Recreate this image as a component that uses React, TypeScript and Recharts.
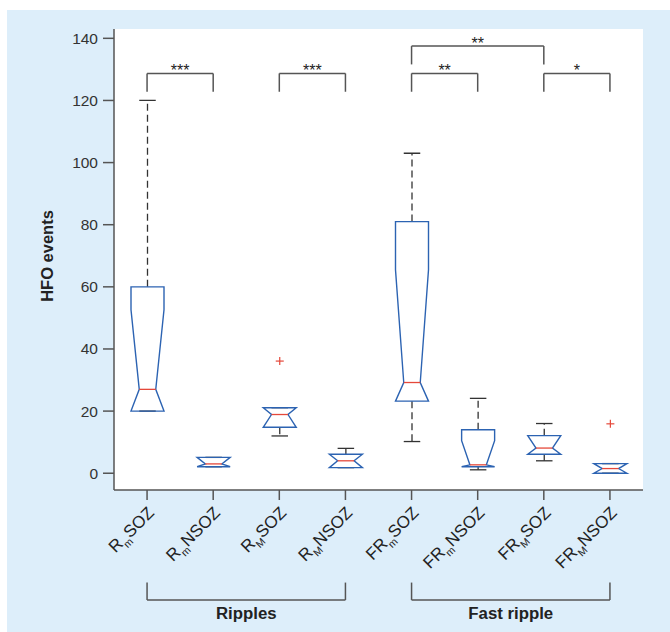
import React from "react";
import {
  ComposedChart,
  Bar,
  XAxis,
  YAxis,
  CartesianGrid,
  ReferenceLine,
} from "recharts";

const categories = ["RmSOZ", "RmNSOZ", "RMSOZ", "RMNSOZ", "FRmSOZ", "FRmNSOZ", "FRMSOZ", "FRMNSOZ"];
const labelHead = ["R", "R", "R", "R", "FR", "FR", "FR", "FR"];
const labelSub = ["m", "m", "M", "M", "m", "m", "M", "M"];
const labelTail = ["SOZ", "NSOZ", "SOZ", "NSOZ", "SOZ", "NSOZ", "SOZ", "NSOZ"];

const whiskerLow = [20, 2.1, 12, 1.8, 10.2, 1.1, 4, 0];
const q1 = [20, 2.1, 14.8, 1.8, 23.2, 2.1, 6.1, 0];
const median = [27, 3, 18.9, 4, 29.2, 2.7, 8.1, 1.5];
const q3 = [60, 5.1, 21.1, 6.1, 81, 14, 12.1, 3.1];
const whiskerHigh = [120, 5.1, 21.1, 8, 103, 24.1, 16, 3.1];
const notchLow = [1.4, 0.5, 13, 1.5, -8, -5, 3.7, -1.5];
const notchHigh = [52.6, 5.5, 25, 6.5, 65.5, 10.5, 12.5, 4.5];
const outliers: number[][] = [[], [], [36.1], [], [], [], [], [15.9]];

const yTicks = [0, 20, 40, 60, 80, 100, 120, 140];

// significance brackets (category index pairs)
const sigFrom = [0, 2, 4, 6, 4];
const sigTo = [1, 3, 5, 7, 6];
const sigTop = [128.7, 128.7, 128.7, 128.7, 137.5];
const sigLeg = [122.8, 122.8, 122.8, 122.8, 131.6];
const sigText = ["***", "***", "**", "*", "**"];

// group brackets under the axis
const groupFrom = [0, 4];
const groupTo = [3, 7];
const groupName = ["Ripples", "Fast ripple"];
const groupLegTop = -35.2;
const groupLine = -40.8;

const BLUE = "#2c63b2";
const RED = "#e5483a";
const GRAY = "#555";
const FONT = "'Liberation Sans', Arial, Helvetica, sans-serif";

const data = categories.map((name, i) => ({
  name,
  range: [
    Math.min(whiskerLow[i], ...outliers[i]),
    Math.max(whiskerHigh[i], ...outliers[i]),
  ],
  i,
}));

const BoxShape = (props: any) => {
  const { x, y, width, height } = props;
  const p = props.payload ?? props;
  const i = p.i;
  const [lo, hi] = p.range;
  const top = Math.min(y, y + height);
  const k = Math.abs(height) / (hi - lo);
  const Y = (v: number) => top + (hi - v) * k;
  const cx = x + width / 2;
  const hw = width / 2;
  const nw = width / 4;
  const nHi = Math.min(notchHigh[i], q3[i]);
  const nLo = Math.max(notchLow[i], q1[i]);
  const pts = [
    [cx - hw, Y(q3[i])],
    [cx + hw, Y(q3[i])],
    [cx + hw, Y(nHi)],
    [cx + nw, Y(median[i])],
    [cx + hw, Y(nLo)],
    [cx + hw, Y(q1[i])],
    [cx - hw, Y(q1[i])],
    [cx - hw, Y(nLo)],
    [cx - nw, Y(median[i])],
    [cx - hw, Y(nHi)],
  ]
    .map((q) => q.join(","))
    .join(" ");
  return (
    <g>
      {whiskerHigh[i] > q3[i] && (
        <line x1={cx} x2={cx} y1={Y(q3[i])} y2={Y(whiskerHigh[i])} stroke="#333" strokeWidth={1.3} strokeDasharray="7 4" />
      )}
      {whiskerLow[i] < q1[i] && (
        <line x1={cx} x2={cx} y1={Y(q1[i])} y2={Y(whiskerLow[i])} stroke="#333" strokeWidth={1.3} strokeDasharray="7 4" />
      )}
      <line x1={cx - nw} x2={cx + nw} y1={Y(whiskerHigh[i])} y2={Y(whiskerHigh[i])} stroke="#333" strokeWidth={1.3} />
      <line x1={cx - nw} x2={cx + nw} y1={Y(whiskerLow[i])} y2={Y(whiskerLow[i])} stroke="#333" strokeWidth={1.3} />
      <polygon points={pts} fill="none" stroke={BLUE} strokeWidth={1.4} strokeLinejoin="miter" />
      <line x1={cx - nw} x2={cx + nw} y1={Y(median[i])} y2={Y(median[i])} stroke={RED} strokeWidth={1.3} />
      {outliers[i].map((v, j) => (
        <g key={j} stroke={RED} strokeWidth={1.2}>
          <line x1={cx - 4} x2={cx + 4} y1={Y(v)} y2={Y(v)} />
          <line x1={cx} x2={cx} y1={Y(v) - 4} y2={Y(v) + 4} />
        </g>
      ))}
    </g>
  );
};

const XTick = (props: any) => {
  const { x, y, payload } = props;
  const i = categories.indexOf(payload.value);
  return (
    <g transform={`translate(${x + 8},${y + 14}) rotate(-45)`}>
      <text x={0} y={0} textAnchor="end" fontSize={17} fill="#222" fontFamily={FONT}>
        {labelHead[i]}
        <tspan fontSize={10.5} dy={5}>{labelSub[i]}</tspan>
        <tspan dy={-5}>{labelTail[i]}</tspan>
      </text>
    </g>
  );
};

const textLabel = (text: string, dy: number, size: number, bold: boolean) => (props: any) => {
  const vb = props.viewBox;
  return (
    <text
      x={vb.x + vb.width / 2}
      y={vb.y + dy}
      textAnchor="middle"
      fontSize={size}
      fontWeight={bold ? "bold" : "normal"}
      fill="#222"
      fontFamily={FONT}
    >
      {text}
    </text>
  );
};

export default function App() {
  return (
    <div style={{ position: "absolute", left: 0, top: 0, width: 670, height: 632, background: "#fff" }}>
      <div style={{ position: "absolute", left: 7, top: 10, right: 0, bottom: 0, background: "#ddeefa" }} />
      <div style={{ position: "absolute", left: 0, top: 0 }}>
        <ComposedChart
          width={670}
          height={632}
          data={data}
          margin={{ top: 29, right: 27, bottom: 0, left: 0 }}
        >
          <CartesianGrid fill="#ffffff" stroke="none" />
          <XAxis
            dataKey="name"
            type="category"
            interval={0}
            height={142}
            tickSize={10}
            tickMargin={0}
            axisLine={{ stroke: GRAY, strokeWidth: 1.5 }}
            tickLine={{ stroke: GRAY, strokeWidth: 1.5 }}
            tick={<XTick />}
          />
          <YAxis
            type="number"
            width={114}
            domain={[-5.4, 143]}
            allowDataOverflow
            ticks={yTicks}
            tickSize={11}
            tickMargin={5}
            axisLine={{ stroke: GRAY, strokeWidth: 1.5 }}
            tickLine={{ stroke: GRAY, strokeWidth: 1.5 }}
            tick={{ fill: "#333", fontSize: 15.5, fontFamily: FONT }}
            label={(props: any) => (
              <text
                x={53}
                y={256}
                transform="rotate(-90, 53, 256)"
                textAnchor="middle"
                fontSize={16.5}
                fontWeight="bold"
                fill="#222"
                fontFamily={FONT}
              >
                HFO events
              </text>
            )}
          />
          <Bar dataKey="range" barSize={33} shape={(p: any) => <BoxShape {...p} />} isAnimationActive={false} />
          {sigFrom.map((f, k) => (
            <ReferenceLine
              key={`st${k}`}
              segment={[
                { x: categories[f], y: sigTop[k] },
                { x: categories[sigTo[k]], y: sigTop[k] },
              ]}
              stroke={GRAY}
              strokeWidth={1.5}
              ifOverflow="visible"
              label={textLabel(sigText[k], 3, 16, false)}
            />
          ))}
          {sigFrom.map((f, k) => (
            <ReferenceLine
              key={`sl${k}`}
              segment={[
                { x: categories[f], y: sigTop[k] },
                { x: categories[f], y: sigLeg[k] },
              ]}
              stroke={GRAY}
              strokeWidth={1.5}
              ifOverflow="visible"
            />
          ))}
          {sigTo.map((t, k) => (
            <ReferenceLine
              key={`sr${k}`}
              segment={[
                { x: categories[t], y: sigTop[k] },
                { x: categories[t], y: sigLeg[k] },
              ]}
              stroke={GRAY}
              strokeWidth={1.5}
              ifOverflow="visible"
            />
          ))}
          {groupFrom.map((f, k) => (
            <ReferenceLine
              key={`gh${k}`}
              segment={[
                { x: categories[f], y: groupLine },
                { x: categories[groupTo[k]], y: groupLine },
              ]}
              stroke={GRAY}
              strokeWidth={1.5}
              ifOverflow="visible"
              label={textLabel(groupName[k], 19, 16.8, true)}
            />
          ))}
          {groupFrom.map((f, k) => (
            <ReferenceLine
              key={`gl${k}`}
              segment={[
                { x: categories[f], y: groupLegTop },
                { x: categories[f], y: groupLine },
              ]}
              stroke={GRAY}
              strokeWidth={1.5}
              ifOverflow="visible"
            />
          ))}
          {groupTo.map((t, k) => (
            <ReferenceLine
              key={`gr${k}`}
              segment={[
                { x: categories[t], y: groupLegTop },
                { x: categories[t], y: groupLine },
              ]}
              stroke={GRAY}
              strokeWidth={1.5}
              ifOverflow="visible"
            />
          ))}
        </ComposedChart>
      </div>
    </div>
  );
}
